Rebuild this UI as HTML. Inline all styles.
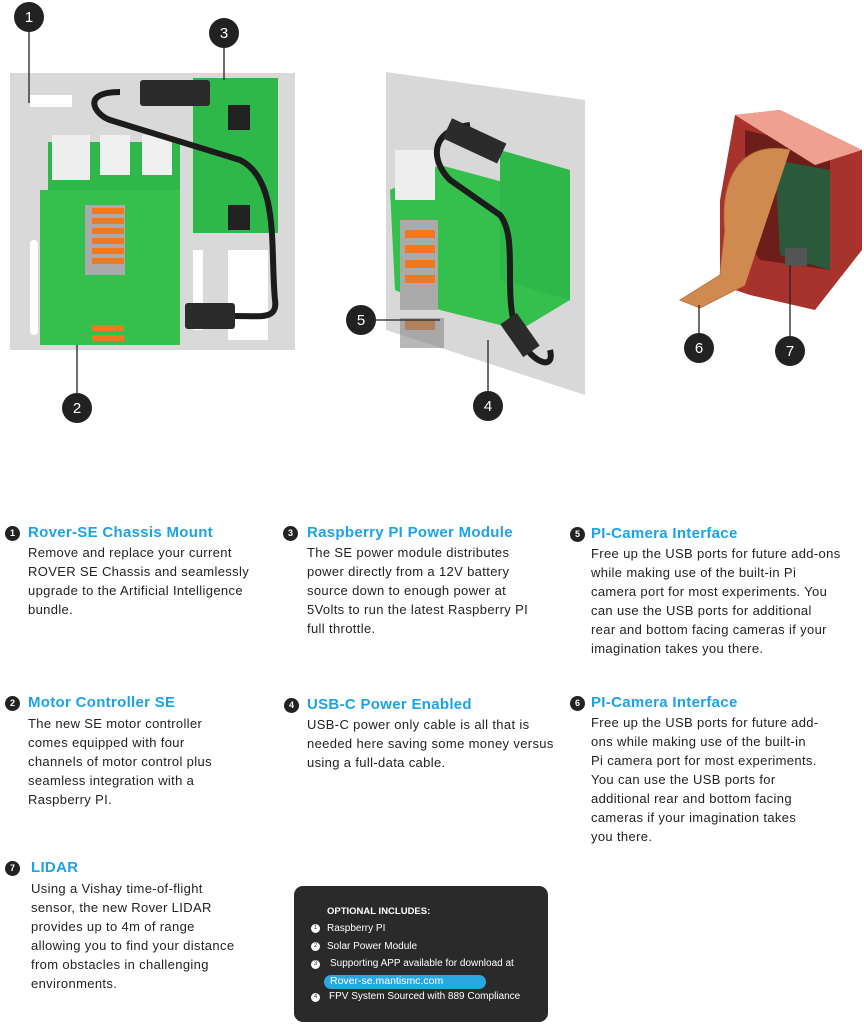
<!DOCTYPE html>
<html><head><meta charset="utf-8"><style>
body{margin:0;width:864px;height:1024px;background:#fff;position:relative;overflow:hidden;font-family:"Liberation Sans",sans-serif}
.t{position:absolute;color:#1aa3e8;font-weight:bold;font-size:15px;white-space:nowrap;letter-spacing:0.3px}
.b{position:absolute;color:#222;font-size:13px;line-height:19px;white-space:nowrap;letter-spacing:0.35px}
.n{position:absolute;width:15px;height:15px;border-radius:50%;background:#222;color:#fff;font-size:9px;font-weight:bold;text-align:center;line-height:15px}
.box{position:absolute;left:294px;top:886px;width:254px;height:136px;background:#2a2a2a;border-radius:9px;color:#fff;font-size:10px}
.box div{position:absolute;white-space:nowrap}
.s{width:9px;height:9px;border-radius:50%;background:#fff;color:#333;font-size:6px;text-align:center;line-height:9px}
</style></head><body>
<svg width="864" height="470" style="position:absolute;left:0;top:0">
<rect x="10" y="73" width="285" height="277" fill="#d9d9d9"/>
<rect x="30" y="95" width="42" height="12" fill="#fff"/>
<rect x="30" y="240" width="8" height="95" rx="4" fill="#fff"/>
<rect x="228" y="250" width="40" height="90" fill="#fff"/>
<rect x="193" y="250" width="10" height="80" fill="#fff"/>
<rect x="48" y="142" width="132" height="120" fill="#2fb84a"/>
<rect x="40" y="190" width="140" height="155" fill="#35c04d"/>
<rect x="52" y="135" width="38" height="45" fill="#eee"/>
<rect x="100" y="135" width="30" height="40" fill="#f0f0f0"/>
<rect x="142" y="135" width="30" height="40" fill="#f0f0f0"/>
<rect x="85" y="205" width="40" height="70" fill="#aaa"/>
<g fill="#f07820"><rect x="92" y="208" width="32" height="6"/><rect x="92" y="218" width="32" height="6"/><rect x="92" y="228" width="32" height="6"/><rect x="92" y="238" width="32" height="6"/><rect x="92" y="248" width="32" height="6"/><rect x="92" y="258" width="32" height="6"/><rect x="92" y="325" width="32" height="6"/><rect x="92" y="335" width="32" height="6"/></g>
<rect x="193" y="78" width="85" height="155" fill="#2fb84a"/>
<rect x="228" y="105" width="22" height="25" fill="#222"/><rect x="228" y="205" width="22" height="25" fill="#222"/>
<rect x="140" y="80" width="70" height="26" rx="3" fill="#2b2b2b"/>
<rect x="185" y="303" width="50" height="26" rx="3" fill="#2b2b2b"/>
<path d="M120 92 C80 92 95 115 110 120 L240 160 C280 180 270 250 275 300 C278 320 260 316 235 316" stroke="#1c1c1c" stroke-width="6" fill="none"/>
<polygon points="386,72 585,100 585,395 386,330" fill="#d8d8d8"/>
<polygon points="390,190 440,165 570,200 570,300 520,330 440,310 395,290" fill="#35c04d"/>
<polygon points="500,150 570,170 570,300 500,280" fill="#2fb84a"/>
<rect x="395" y="150" width="40" height="50" fill="#eee"/>
<rect x="400" y="220" width="38" height="90" fill="#aaa"/>
<g fill="#f07820"><rect x="405" y="230" width="30" height="8"/><rect x="405" y="245" width="30" height="8"/><rect x="405" y="260" width="30" height="8"/><rect x="405" y="275" width="30" height="8"/><rect x="405" y="320" width="30" height="10"/></g>
<rect x="400" y="318" width="44" height="30" fill="#888" opacity=".6"/>
<path d="M470 125 C430 130 430 160 450 180 L500 215 C520 240 500 300 520 340 C535 365 555 370 550 350" stroke="#1c1c1c" stroke-width="6" fill="none"/>
<rect x="445" y="130" width="60" height="22" fill="#2b2b2b" transform="rotate(25 475 140)"/>
<rect x="500" y="325" width="40" height="20" fill="#2b2b2b" transform="rotate(55 520 335)"/>
<polygon points="735,115 780,110 862,150 862,250 815,310 750,295 720,285 720,200" fill="#a8322c"/>
<polygon points="745,130 830,150 830,270 760,260 745,240" fill="#6e1e1a"/>
<polygon points="735,115 780,110 862,150 815,165" fill="#f0a090"/>
<polygon points="775,160 830,170 830,270 780,255" fill="#2a5a3a"/>
<path d="M790 150 C740 140 720 180 725 230 L720 275 L680 300 L700 308 L745 285" fill="#d08a50" stroke="#c07840"/>
<rect x="785" y="248" width="22" height="18" fill="#555"/>
<g stroke="#222" stroke-width="1.3">
<line x1="29" y1="17" x2="29" y2="103"/><line x1="224" y1="33" x2="224" y2="80"/>
<line x1="77" y1="408" x2="77" y2="345"/><line x1="361" y1="320" x2="440" y2="320"/>
<line x1="488" y1="406" x2="488" y2="340"/><line x1="699" y1="348" x2="699" y2="305"/>
<line x1="790" y1="351" x2="790" y2="265"/></g>
<g fill="#222" font-size="15" text-anchor="middle" font-family="Liberation Sans">
<circle cx="29" cy="17" r="15"/><circle cx="224" cy="33" r="15"/><circle cx="77" cy="408" r="15"/><circle cx="361" cy="320" r="15"/><circle cx="488" cy="406" r="15"/><circle cx="699" cy="348" r="15"/><circle cx="790" cy="351" r="15"/>
<g fill="#fff"><text x="29" y="22">1</text><text x="224" y="38">3</text><text x="77" y="413">2</text><text x="361" y="325">5</text><text x="488" y="411">4</text><text x="699" y="353">6</text><text x="790" y="356">7</text></g></g>
</svg>

<div class="n" style="left:5px;top:526px">1</div><div class="t" style="left:28px;top:524px">Rover-SE Chassis Mount</div>
<div class="b" style="left:28px;top:543px">Remove and replace your current<br>ROVER SE Chassis and seamlessly<br>upgrade to the Artificial Intelligence<br>bundle.</div>
<div class="n" style="left:283px;top:526px">3</div><div class="t" style="left:307px;top:524px">Raspberry PI Power Module</div>
<div class="b" style="left:307px;top:543px">The SE power module distributes<br>power directly from a 12V battery<br>source down to enough power at<br>5Volts to run the latest Raspberry PI<br>full throttle.</div>
<div class="n" style="left:570px;top:527px">5</div><div class="t" style="left:591px;top:525px">PI-Camera Interface</div>
<div class="b" style="left:591px;top:544px">Free up the USB ports for future add-ons<br>while making use of the built-in Pi<br>camera port for most experiments.  You<br>can use the USB ports for additional<br>rear and bottom facing cameras if your<br>imagination takes you there.</div>
<div class="n" style="left:5px;top:696px">2</div><div class="t" style="left:28px;top:694px">Motor Controller SE</div>
<div class="b" style="left:28px;top:714px">The new SE motor controller<br>comes equipped with four<br>channels of motor control plus<br>seamless integration with a<br>Raspberry PI.</div>
<div class="n" style="left:284px;top:698px">4</div><div class="t" style="left:307px;top:696px">USB-C Power Enabled</div>
<div class="b" style="left:307px;top:715px">USB-C power only cable is all that is<br>needed here saving some money versus<br>using a full-data cable.</div>
<div class="n" style="left:570px;top:696px">6</div><div class="t" style="left:591px;top:694px">PI-Camera Interface</div>
<div class="b" style="left:591px;top:713px">Free up the USB ports for future add-<br>ons while making use of the built-in<br>Pi camera port for most experiments.<br>You can use the USB ports for<br>additional rear and bottom facing<br>cameras if your imagination takes<br>you there.</div>
<div class="n" style="left:5px;top:861px">7</div><div class="t" style="left:31px;top:859px">LIDAR</div>
<div class="b" style="left:31px;top:879px">Using a Vishay time-of-flight<br>sensor, the new Rover LIDAR<br>provides up to 4m of range<br>allowing you to find your distance<br>from obstacles in challenging<br>environments.</div>

<div class="box">
<div style="left:33px;top:20px;font-weight:bold;font-size:9.5px">OPTIONAL INCLUDES:</div>
<div class="s" style="left:17px;top:38px">1</div><div style="left:33px;top:37px">Raspberry PI</div>
<div class="s" style="left:17px;top:56px">2</div><div style="left:33px;top:55px">Solar Power Module</div>
<div class="s" style="left:17px;top:74px">3</div><div style="left:36px;top:72px">Supporting APP available for download at</div>
<div style="left:30px;top:89px;width:162px;height:14px;background:#29a8e0;border-radius:7px"></div>
<div style="left:36px;top:89px;font-size:10.5px">Rover-se.mantismc.com</div>
<div class="s" style="left:17px;top:107px">4</div><div style="left:35px;top:105px">FPV System Sourced with 889 Compliance</div>
</div>
</body></html>
